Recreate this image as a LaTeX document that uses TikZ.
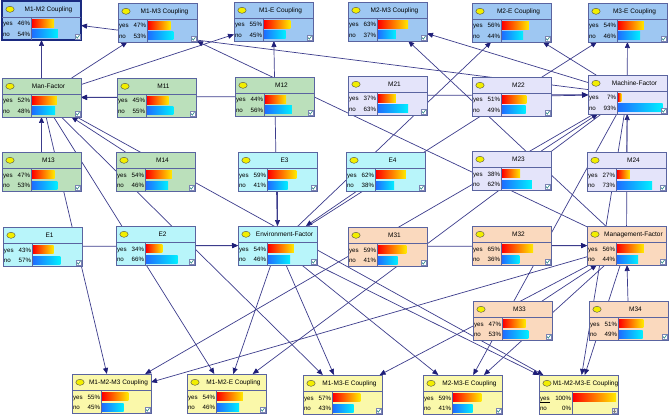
\documentclass[tikz,border=0pt]{standalone}
\usepackage{fontspec}
\setmainfont{Liberation Sans}
\usetikzlibrary{arrows.meta}
\pgfdeclarelayer{bg}
\pgfsetlayers{bg,main}
\definecolor{cblue}{HTML}{9EC7F2}
\definecolor{cgreen}{HTML}{BBE0BB}
\definecolor{clav}{HTML}{E4E4FA}
\definecolor{ccyan}{HTML}{B8F5FA}
\definecolor{cpeach}{HTML}{FAD9BE}
\definecolor{cyell}{HTML}{FAF8AA}
\definecolor{bord}{HTML}{5A64A0}
\definecolor{edgec}{HTML}{3C3C8C}
\definecolor{arrc}{HTML}{1E1E78}
\definecolor{ellc}{HTML}{F2EE00}
\definecolor{nblue}{RGB}{30,110,255}
\definecolor{ncyan}{RGB}{0,240,255}
\definecolor{yred}{RGB}{255,0,0}
\definecolor{yyel}{RGB}{255,235,0}
\definecolor{chk}{HTML}{208080}
\definecolor{thickb}{HTML}{1A2A80}
\tikzset{
 box/.style={draw=bord, line width=0.7pt, rectangle, minimum width=79pt, minimum height=39pt, inner sep=0pt, outer sep=0pt, anchor=north west},
 divline/.style={draw=bord, line width=0.6pt},
 ttl/.style={font=\fontsize{6.5}{7}\selectfont, inner sep=0pt},
 lbl/.style={font=\fontsize{6.2}{7}\selectfont, inner sep=0pt},
 edge/.style={draw=edgec, line width=0.7pt, -{Triangle[length=6pt,width=5pt,color=arrc]}},
}
\newcommand{\bnbox}[8][]{%
 \begin{scope}[shift={(#3,#4)}]
 \node[box,fill=#5,#1] (#2) at (0,0) {};
 \draw[divline] (0,16) -- (79,16) (29,16) -- (29,39);
 \draw[draw=black!70, line width=0.4pt, fill=ellc] (8,8.3) ellipse [x radius=4.2, y radius=3];
 \node[ttl] at (46.5,8.5) {#6};
 \node[lbl,anchor=base west] at (0.8,25) {yes};
 \node[lbl,anchor=base east] at (28.3,25) {#7\%};
 \node[lbl,anchor=base west] at (0.8,35.7) {no};
 \node[lbl,anchor=base east] at (28.3,35.7) {#8\%};
 \shade[left color=yred,right color=yyel] (30,18.5) rectangle ({30+0.48*#7},26.5);
 \shade[left color=nblue,right color=ncyan] (30,29) rectangle ({30+0.48*#8},37);
 \draw[draw=bord!80,fill=white,line width=0.4pt] (73,33) rectangle (78.3,38.3);
 \draw[draw=chk,line width=0.6pt] (74,35.5) -- (75.3,37.2) -- (77.5,34);
 \end{scope}}
\begin{document}
\begin{tikzpicture}[x=1pt,y=-1pt]
\useasboundingbox (0,0) rectangle (669,417);
% row 1
\bnbox[line width=2pt,draw=thickb]{c12}{2}{1}{cblue}{M1-M2 Coupling}{46}{54}
\bnbox{c13}{118}{3}{cblue}{M1-M3 Coupling}{47}{53}
\bnbox{c1e}{234}{2}{cblue}{M1-E Coupling}{55}{45}
\bnbox{c23}{348}{2}{cblue}{M2-M3 Coupling}{63}{37}
\bnbox{c2e}{472}{3}{cblue}{M2-E Coupling}{56}{44}
\bnbox{c3e}{588}{3}{cblue}{M3-E Coupling}{54}{46}
% row 2
\bnbox{manf}{2}{78}{cgreen}{Man-Factor}{52}{48}
\bnbox{m11}{117}{78}{cgreen}{M11}{45}{55}
\bnbox{m12}{235}{77}{cgreen}{M12}{44}{56}
\bnbox{m21}{348}{76}{clav}{M21}{37}{63}
\bnbox{m22}{472}{77}{clav}{M22}{51}{49}
\bnbox{machf}{588}{75}{clav}{Machine-Factor}{7}{93}
% row 3
\bnbox{m13}{2}{152}{cgreen}{M13}{47}{53}
\bnbox{m14}{116}{152}{cgreen}{M14}{54}{46}
\bnbox{e3}{238}{152}{ccyan}{E3}{59}{41}
\bnbox{e4}{346}{152}{ccyan}{E4}{62}{38}
\bnbox{m23}{472}{151}{clav}{M23}{38}{62}
\bnbox{m24}{587}{152}{clav}{M24}{27}{73}
% row 4
\bnbox{e1}{3}{227}{ccyan}{E1}{43}{57}
\bnbox{e2}{116}{226}{ccyan}{E2}{34}{66}
\bnbox{envf}{238}{226}{ccyan}{Environment-Factor}{54}{46}
\bnbox{m31}{348}{227}{cpeach}{M31}{59}{41}
\bnbox{m32}{472}{226}{cpeach}{M32}{65}{36}
\bnbox{mgmtf}{587}{226}{cpeach}{Management-Factor}{56}{44}
% row 5
\bnbox{m33}{473}{301}{cpeach}{M33}{47}{53}
\bnbox{m34}{589}{301}{cpeach}{M34}{51}{49}
% row 6
\bnbox{c123}{72}{374}{cyell}{M1-M2-M3 Coupling}{55}{45}
\bnbox{c12e}{187}{374}{cyell}{M1-M2-E Coupling}{54}{46}
\bnbox{c13e}{303}{375}{cyell}{M1-M3-E Coupling}{57}{43}
\bnbox{c23e}{423}{375}{cyell}{M2-M3-E Coupling}{59}{41}
% special box
\begin{scope}[shift={(539,375)}]
 \node[box,fill=cyell] (c123e) at (0,0) {};
 \draw[divline] (0,16) -- (79,16) (33,16) -- (33,39);
 \draw[draw=black!70, line width=0.4pt, fill=ellc] (8,8.3) ellipse [x radius=4.2, y radius=3];
 \node[ttl] at (46.5,8.5) {M1-M2-M3-E Coupling};
 \node[lbl,anchor=base west] at (0.8,25) {\underline{yes}};
 \node[lbl,anchor=base east] at (32.3,25) {100\%};
 \node[lbl,anchor=base west] at (0.8,35.7) {no};
 \node[lbl,anchor=base east] at (32.3,35.7) {0\%};
 \shade[left color=yred,right color=yyel] (34,18.5) rectangle (77,26.5);
 \draw[draw=bord!80,fill=black!10,line width=0.4pt] (73,33) rectangle (78.3,38.3);
 \draw[draw=black!50,line width=0.5pt] (74,36) -- (77.3,36) (75.6,34.3) -- (75.6,37.6);
\end{scope}
\begin{pgfonlayer}{bg}
\fill[white] (0,0) rectangle (669,417);
\foreach \a/\b in {m11/manf,m12/manf,m13/manf,m14/manf,
  m21/machf,m22/machf,m23/machf,m24/machf,
  e1/envf,e2/envf,e3/envf,e4/envf,
  m31/mgmtf,m32/mgmtf,m33/mgmtf,m34/mgmtf,
  manf/c12,manf/c13,manf/c1e,manf/c123,manf/c12e,manf/c13e,manf/c123e,
  machf/c12,machf/c23,machf/c2e,machf/c123,machf/c12e,machf/c23e,machf/c123e,
  mgmtf/c13,mgmtf/c23,mgmtf/c3e,mgmtf/c123,mgmtf/c13e,mgmtf/c23e,mgmtf/c123e,
  envf/c1e,envf/c2e,envf/c3e,envf/c12e,envf/c13e,envf/c23e,envf/c123e}
  {\draw[edge] (\a) -- (\b);}
\end{pgfonlayer}
\end{tikzpicture}
\end{document}
